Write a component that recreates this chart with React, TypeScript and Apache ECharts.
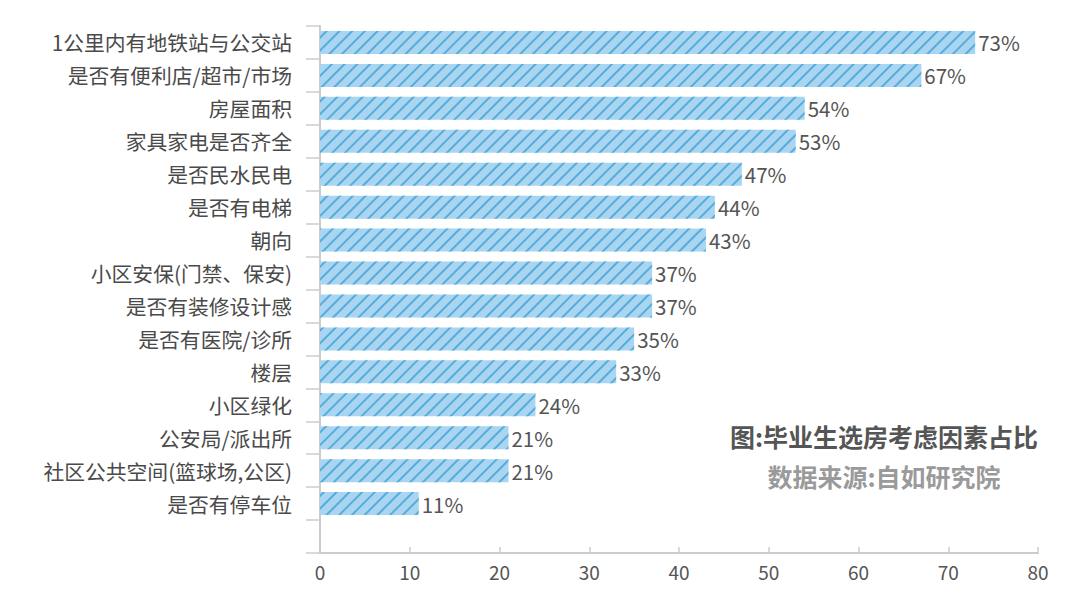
import React, { useEffect, useRef } from "react";
import * as echarts from "echarts";

const categories = [
  "1公里内有地铁站与公交站",
  "是否有便利店/超市/市场",
  "房屋面积",
  "家具家电是否齐全",
  "是否民水民电",
  "是否有电梯",
  "朝向",
  "小区安保(门禁、保安)",
  "是否有装修设计感",
  "是否有医院/诊所",
  "楼层",
  "小区绿化",
  "公安局/派出所",
  "社区公共空间(篮球场,公区)",
  "是否有停车位",
  "",
];
const values = [73, 67, 54, 53, 47, 44, 43, 37, 37, 35, 33, 24, 21, 21, 11, null];
const xTicks = [0, 10, 20, 30, 40, 50, 60, 70, 80];
const titleText = "图:毕业生选房考虑因素占比";
const sourceText = "数据来源:自如研究院";

const FONT = "'Noto Sans CJK SC', 'Noto Sans', sans-serif";

export default function App() {
  const ref = useRef<HTMLDivElement>(null);
  useEffect(() => {
    if (!ref.current) return;
    const chart = echarts.init(ref.current, undefined, { renderer: "svg" });
    chart.setOption({
      animation: false,
      backgroundColor: "#ffffff",
      textStyle: { fontFamily: FONT },
      grid: { left: 320, right: 42, top: 26, bottom: 56, containLabel: false },
      xAxis: {
        type: "value",
        min: xTicks[0],
        max: xTicks[xTicks.length - 1],
        interval: 10,
        splitLine: { show: false },
        axisLine: { show: true, lineStyle: { color: "#cccccc", width: 2 } },
        axisTick: { show: true, inside: true, length: 6, lineStyle: { color: "#cccccc", width: 1.5 } },
        axisLabel: { color: "#555555", fontSize: 19, margin: 9, fontFamily: FONT },
      },
      yAxis: {
        type: "category",
        inverse: true,
        data: categories,
        axisLine: { show: true, lineStyle: { color: "#cccccc", width: 2 } },
        axisTick: { show: true, length: 14, lineStyle: { color: "#cccccc", width: 1.5 } },
        axisLabel: { color: "#4a4a4a", fontSize: 20.8, margin: 28, fontFamily: FONT },
      },
      series: [
        {
          type: "bar",
          data: values,
          barCategoryGap: "30%",
          itemStyle: {
            color: "#a9d5f0",
            decal: {
              symbol: "rect",
              color: "#55acdd",
              dashArrayX: [1, 0],
              dashArrayY: [1.5, 7],
              rotation: -Math.PI / 4,
            },
          },
          label: {
            show: true,
            position: "right",
            distance: 3,
            formatter: "{c}%",
            color: "#555555",
            fontSize: 20.5,
            fontFamily: FONT,
          },
        },
      ],
      graphic: [
        {
          type: "text",
          x: 884,
          y: 436,
          style: {
            text: titleText,
            fill: "#555555",
            font: "bold 25px " + FONT,
            textAlign: "center",
            textVerticalAlign: "middle",
          },
        },
        {
          type: "text",
          x: 884,
          y: 476,
          style: {
            text: sourceText,
            fill: "#9a9a9a",
            font: "bold 25px " + FONT,
            textAlign: "center",
            textVerticalAlign: "middle",
          },
        },
      ],
    });
    return () => chart.dispose();
  }, []);
  return (
    <div
      ref={ref}
      style={{ position: "absolute", left: 0, top: 0, width: 1080, height: 609 }}
    />
  );
}
